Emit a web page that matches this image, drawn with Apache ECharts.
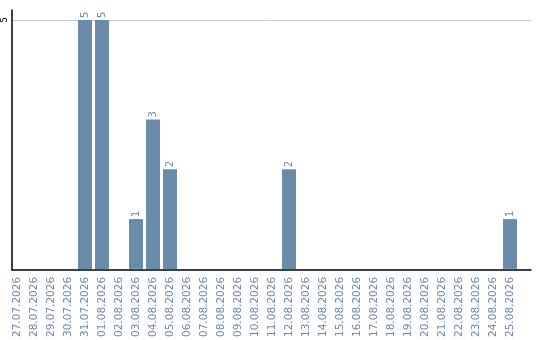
<!DOCTYPE html>
<html>
<head>
<meta charset="utf-8">
<style>
  html, body { margin: 0; padding: 0; background: #fff; }
  #chart { width: 540px; height: 340px; }
</style>
<script src="https://cdn.jsdelivr.net/npm/echarts@6/dist/echarts.min.js"></script>
</head>
<body>
<div id="chart"></div>
<script>
// Daily counts, 27.07.2026 – 25.08.2026
const days = [
  '27.07.2026', '28.07.2026', '29.07.2026', '30.07.2026', '31.07.2026',
  '01.08.2026', '02.08.2026', '03.08.2026', '04.08.2026', '05.08.2026',
  '06.08.2026', '07.08.2026', '08.08.2026', '09.08.2026', '10.08.2026',
  '11.08.2026', '12.08.2026', '13.08.2026', '14.08.2026', '15.08.2026',
  '16.08.2026', '17.08.2026', '18.08.2026', '19.08.2026', '20.08.2026',
  '21.08.2026', '22.08.2026', '23.08.2026', '24.08.2026', '25.08.2026'
];
const counts = [
  0, 0, 0, 0, 5,
  5, 0, 1, 3, 2,
  0, 0, 0, 0, 0,
  0, 2, 0, 0, 0,
  0, 0, 0, 0, 0,
  0, 0, 0, 0, 1
];
const yTicks = [5];

const textColor = '#6a89aa';
const barColor = '#6b8bab';
const font = 'DejaVu Sans';
const yMax = 5.2;

const chart = echarts.init(document.getElementById('chart'), null, { renderer: 'canvas' });

chart.setOption({
  animation: false,
  backgroundColor: '#ffffff',
  grid: [
    // frame: axis lines and the reference line
    { left: 10, right: 9, top: 10, bottom: 70 },
    // bars
    { left: 8.5, width: 510, top: 10, bottom: 70 }
  ],
  xAxis: [
    {
      type: 'value', gridIndex: 0, min: 0, max: 1,
      axisLine: { show: true, lineStyle: { color: '#000', width: 1.5 } },
      axisTick: { show: false }, axisLabel: { show: false }, splitLine: { show: false }
    },
    {
      type: 'category', gridIndex: 1, data: days,
      axisLine: { show: false }, axisTick: { show: false },
      axisLabel: {
        rotate: 90, interval: 0, margin: 8,
        color: textColor, fontFamily: font, fontSize: 10.5
      }
    }
  ],
  yAxis: [
    {
      type: 'value', gridIndex: 0, min: 0, max: yMax, interval: 5,
      axisLine: { show: true, lineStyle: { color: '#000', width: 1.5 } },
      axisTick: { show: false },
      axisLabel: {
        rotate: 90, margin: 3, color: '#000', fontFamily: font, fontSize: 9,
        formatter: v => (yTicks.includes(v) ? String(v) : '')
      },
      splitLine: {
        show: true, showMinLine: false, showMaxLine: false,
        lineStyle: { color: '#c8c8c8', width: 1 }
      }
    },
    {
      type: 'value', gridIndex: 1, min: 0, max: yMax, interval: 5,
      show: false
    }
  ],
  series: [
    {
      type: 'bar',
      xAxisIndex: 1, yAxisIndex: 1,
      data: counts,
      barWidth: 14,
      itemStyle: { color: barColor },
      label: {
        show: true, position: 'top', rotate: 90, distance: 2,
        align: 'left', verticalAlign: 'middle',
        color: textColor, fontFamily: font, fontSize: 10,
        formatter: p => (p.value ? String(p.value) : '')
      }
    }
  ]
});
</script>
</body>
</html>
